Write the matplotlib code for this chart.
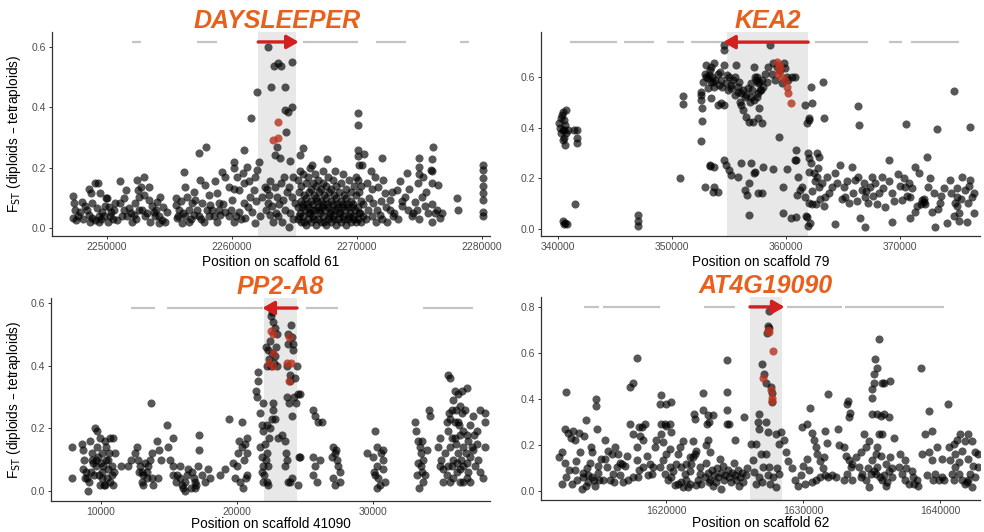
import matplotlib.pyplot as plt
import numpy as np
from matplotlib.ticker import FormatStrFormatter
import matplotlib.transforms as mtransforms

plt.rcParams["font.family"] = ["Liberation Sans", "DejaVu Sans"]

# All positions in kb, Fst values

# ---------- DAYSLEEPER, scaffold 61 ----------
dsl_snps = [
    (2247.25, 0.107), (2247.33, 0.082), (2247.47, 0.06), (2247.25, 0.032), (2247.52, 0.027),
    (2247.87, 0.051), (2248.0, 0.087), (2248.27, 0.071), (2248.53, 0.128), (2249.01, 0.148),
    (2249.28, 0.148), (2249.47, 0.117), (2248.75, 0.115), (2248.53, 0.043), (2248.8, 0.032),
    (2249.07, 0.027), (2249.33, 0.038), (2249.6, 0.054), (2248.8, 0.082), (2249.2, 0.065),
    (2249.87, 0.071), (2248.67, 0.021), (2249.33, 0.018), (2250.08, 0.018), (2250.27, 0.038),
    (2250.53, 0.06), (2250.67, 0.082), (2250.35, 0.051), (2250.8, 0.027), (2251.07, 0.154),
    (2251.52, 0.124), (2251.07, 0.082), (2251.33, 0.06), (2251.6, 0.038), (2252.0, 0.021),
    (2251.73, 0.065), (2252.21, 0.082), (2252.13, 0.043), (2252.4, 0.159), (2252.93, 0.17),
    (2252.75, 0.137), (2253.33, 0.137), (2252.48, 0.126), (2252.59, 0.104), (2252.93, 0.109),
    (2253.33, 0.093), (2253.6, 0.071), (2252.53, 0.06), (2253.07, 0.038), (2253.47, 0.021),
    (2253.87, 0.038), (2254.13, 0.015), (2254.4, 0.027), (2254.67, 0.021), (2254.0, 0.087),
    (2254.27, 0.104), (2254.8, 0.051), (2253.73, 0.054), (2256.13, 0.187), (2255.52, 0.098),
    (2255.52, 0.076), (2255.73, 0.06), (2255.6, 0.032), (2256.0, 0.015), (2256.27, 0.137),
    (2256.4, 0.104), (2256.53, 0.06), (2256.8, 0.082), (2256.27, 0.038), (2256.53, 0.021),
    (2256.93, 0.043), (2257.07, 0.093), (2257.39, 0.25), (2257.92, 0.267), (2257.47, 0.159),
    (2257.87, 0.143), (2258.13, 0.109), (2257.6, 0.082), (2258.0, 0.06), (2257.33, 0.038),
    (2257.73, 0.021), (2258.27, 0.076), (2258.53, 0.038), (2258.67, 0.154), (2258.8, 0.115),
    (2258.93, 0.082), (2259.2, 0.187), (2259.07, 0.043), (2258.8, 0.021), (2259.47, 0.17),
    (2259.73, 0.137), (2260.13, 0.22), (2260.13, 0.198), (2260.4, 0.17), (2260.53, 0.126),
    (2260.0, 0.093), (2259.47, 0.054), (2259.73, 0.038), (2260.13, 0.021), (2260.53, 0.054),
    (2260.93, 0.082), (2260.93, 0.259), (2260.85, 0.181), (2261.2, 0.203), (2261.33, 0.154),
    (2261.55, 0.364), (2261.07, 0.032), (2261.47, 0.104), (2261.73, 0.126), (2261.87, 0.17),
    (2262.0, 0.452), (2262.13, 0.22), (2261.6, 0.054), (2261.87, 0.015), (2262.27, 0.038),
    (2262.4, 0.104), (2262.67, 0.137), (2262.0, 0.192),
    (2247.7, 0.04), (2248.1, 0.03), (2248.4, 0.06), (2249.5, 0.03), (2249.8, 0.04),
    (2250.2, 0.07), (2250.5, 0.03), (2251.2, 0.04), (2251.9, 0.05), (2252.3, 0.03),
    (2252.8, 0.06), (2253.2, 0.05), (2253.9, 0.06), (2254.2, 0.04), (2254.5, 0.07),
    (2255.7, 0.04), (2256.1, 0.05), (2256.7, 0.03), (2257.2, 0.06), (2257.5, 0.03),
    (2258.4, 0.06), (2259.0, 0.06), (2259.3, 0.08), (2259.9, 0.06), (2260.3, 0.04),
    (2260.7, 0.03), (2261.3, 0.07), (2261.9, 0.09), (2258.2, 0.04), (2255.9, 0.09),
    (2250.0, 0.10), (2251.4, 0.10), (2249.9, 0.10), (2257.0, 0.12), (2260.2, 0.13), (2261.0, 0.15),
    # inside the gene
    (2262.91, 0.60), (2263.39, 0.537), (2263.71, 0.546), (2263.92, 0.537), (2264.77, 0.551),
    (2263.12, 0.468), (2264.24, 0.468), (2264.24, 0.391), (2264.51, 0.386), (2264.77, 0.40),
    (2264.29, 0.319), (2263.57, 0.27), (2263.44, 0.242), (2263.84, 0.231), (2264.64, 0.222),
    (2265.44, 0.242), (2265.71, 0.264), (2263.04, 0.154), (2263.44, 0.137), (2263.92, 0.148),
    (2264.56, 0.137), (2264.91, 0.170), (2262.91, 0.082), (2263.17, 0.071), (2263.57, 0.104),
    (2264.11, 0.093), (2264.24, 0.06), (2264.64, 0.049), (2263.71, 0.038), (2263.04, 0.043),
    (2264.77, 0.104), (2265.04, 0.082), (2264.56, 0.004), (2263.3, 0.02), (2264.0, 0.02),
    (2264.9, 0.03), (2263.0, 0.11), (2263.8, 0.08), (2264.4, 0.12), (2262.7, 0.06),
    (2263.5, 0.05), (2264.2, 0.17), (2262.8, 0.13),
    # dense block right of the gene
    (2265.32, 0.03), (2265.28, 0.07), (2265.35, 0.12), (2265.3, 0.16),
    (2265.52, 0.02), (2265.48, 0.05), (2265.55, 0.09), (2265.5, 0.14), (2265.46, 0.19),
    (2265.72, 0.04), (2265.68, 0.08), (2265.75, 0.11), (2265.7, 0.18),
    (2265.92, 0.01), (2265.88, 0.06), (2265.95, 0.10), (2265.9, 0.15), (2266.37, 0.21),
    (2266.12, 0.03), (2266.08, 0.07), (2266.15, 0.12), (2266.1, 0.17),
    (2266.32, 0.02), (2266.28, 0.05), (2266.35, 0.09), (2266.3, 0.13), (2266.25, 0.20),
    (2266.52, 0.04), (2266.48, 0.08), (2266.55, 0.11), (2266.5, 0.15),
    (2266.72, 0.01), (2266.68, 0.06), (2266.75, 0.10), (2266.7, 0.14), (2266.66, 0.18),
    (2266.92, 0.03), (2266.88, 0.07), (2266.95, 0.12), (2266.9, 0.16),
    (2267.12, 0.02), (2267.08, 0.05), (2267.15, 0.09), (2267.1, 0.13), (2267.57, 0.23),
    (2267.32, 0.04), (2267.28, 0.08), (2267.35, 0.11), (2267.3, 0.15), (2267.26, 0.19),
    (2267.52, 0.01), (2267.48, 0.06), (2267.55, 0.10), (2267.5, 0.14),
    (2267.72, 0.03), (2267.68, 0.07), (2267.75, 0.12), (2267.7, 0.17),
    (2267.92, 0.02), (2267.88, 0.05), (2267.95, 0.09), (2267.9, 0.13),
    (2268.12, 0.04), (2268.08, 0.08), (2268.15, 0.11), (2268.1, 0.16),
    (2268.32, 0.01), (2268.28, 0.06), (2268.35, 0.10), (2268.3, 0.14), (2268.26, 0.19),
    (2268.52, 0.03), (2268.48, 0.07), (2268.55, 0.12),
    (2268.72, 0.02), (2268.68, 0.05), (2268.75, 0.09), (2268.7, 0.15),
    (2268.92, 0.04), (2268.88, 0.08), (2268.95, 0.11), (2268.9, 0.18),
    (2269.12, 0.01), (2269.08, 0.06), (2269.15, 0.10), (2269.1, 0.13),
    (2269.32, 0.03), (2269.28, 0.07), (2269.35, 0.16),
    (2269.52, 0.02), (2269.48, 0.05), (2269.55, 0.09), (2269.5, 0.12),
    (2269.72, 0.04), (2269.68, 0.08), (2269.75, 0.14),
    (2269.92, 0.02), (2269.88, 0.06), (2269.95, 0.11), (2269.9, 0.17),
    (2270.12, 0.03), (2270.08, 0.07), (2270.15, 0.12), (2270.1, 0.16), (2270.2, 0.21),
    (2270.1, 0.26), (2270.11, 0.34), (2270.11, 0.38), (2270.05, 0.24),
    (2270.32, 0.02), (2270.28, 0.05), (2270.35, 0.09), (2270.3, 0.14), (2270.4, 0.21),
    (2270.52, 0.04), (2270.48, 0.08), (2270.59, 0.245),
    (2265.4, 0.04), (2265.8, 0.02), (2266.2, 0.05), (2266.6, 0.03), (2267.0, 0.06),
    (2267.4, 0.02), (2267.8, 0.04), (2268.2, 0.03), (2268.6, 0.05), (2269.0, 0.03),
    (2269.4, 0.04), (2269.8, 0.03), (2270.2, 0.05), (2265.6, 0.07), (2266.0, 0.08),
    (2266.4, 0.06), (2266.8, 0.09), (2267.2, 0.07), (2267.6, 0.08), (2268.0, 0.06),
    (2268.4, 0.08), (2268.8, 0.07), (2269.2, 0.08), (2269.6, 0.07),
    # right side
    (2271.44, 0.17), (2271.71, 0.137), (2272.11, 0.159), (2272.24, 0.115), (2272.64, 0.093),
    (2272.91, 0.038), (2271.31, 0.082), (2271.17, 0.038), (2271.84, 0.043), (2273.17, 0.126),
    (2273.44, 0.154), (2273.97, 0.181), (2273.84, 0.104), (2274.11, 0.06), (2273.57, 0.071),
    (2274.37, 0.038), (2274.64, 0.087), (2274.91, 0.148), (2275.17, 0.104), (2275.31, 0.17),
    (2275.44, 0.071), (2275.71, 0.049), (2275.97, 0.148), (2276.24, 0.049), (2276.51, 0.143),
    (2276.64, 0.032), (2275.97, 0.021), (2272.64, 0.06), (2271.97, 0.231), (2276.11, 0.267),
    (2275.97, 0.228), (2275.92, 0.192), (2274.96, 0.233), (2274.96, 0.203),
    (2280.11, 0.209), (2280.11, 0.192), (2280.11, 0.165), (2280.11, 0.115), (2280.11, 0.093),
    (2280.11, 0.054), (2280.11, 0.038), (2280.11, 0.14), (2277.97, 0.098), (2278.05, 0.06),
    (2270.7, 0.03), (2270.9, 0.06), (2271.0, 0.10), (2271.2, 0.13), (2271.5, 0.02),
    (2271.6, 0.06), (2271.9, 0.09), (2272.0, 0.03), (2272.3, 0.07), (2272.4, 0.02),
    (2272.8, 0.12), (2273.0, 0.05), (2273.3, 0.03), (2273.6, 0.09), (2274.2, 0.13),
    (2274.5, 0.05), (2274.8, 0.06), (2275.0, 0.03), (2275.5, 0.12), (2276.0, 0.08),
    (2276.4, 0.06), (2276.8, 0.05), (2276.0, 0.19), (2275.0, 0.18), (2270.8, 0.15), (2271.1, 0.19),
]
dsl_red = [(2263.71, 0.352), (2263.31, 0.292), (2263.65, 0.297)]
dsl_gene = (2262.1, 2265.1)
dsl_strand = 1
dsl_neighbours = [(2252.0, 2252.72), (2257.2, 2258.8), (2265.68, 2270.08),
                  (2271.52, 2273.92), (2278.24, 2278.96)]

# ---------- KEA2, scaffold 79 ----------
kea_snps = [
    (340.41, 0.46), (340.7, 0.47), (340.26, 0.44), (340.56, 0.43), (340.21, 0.40),
    (340.5, 0.39), (340.7, 0.38), (340.26, 0.38), (340.56, 0.36), (340.41, 0.39),
    (340.85, 0.39), (340.41, 0.35), (340.62, 0.33), (341.43, 0.39), (341.67, 0.39),
    (341.67, 0.36), (341.67, 0.34), (340.32, 0.45), (340.62, 0.41), (340.12, 0.42),
    (341.52, 0.10), (340.41, 0.03), (340.62, 0.025), (340.79, 0.02), (340.5, 0.02),
    (347.05, 0.055), (347.05, 0.03), (347.05, 0.01),
    (350.94, 0.525), (350.94, 0.493), (350.73, 0.20),
    (352.49, 0.542), (352.49, 0.529), (352.55, 0.509), (352.6, 0.476), (352.63, 0.428),
    (352.55, 0.349), (352.84, 0.167), (353.28, 0.253), (353.71, 0.243), (353.71, 0.167),
    (354.01, 0.147), (353.57, 0.147), (354.53, 0.726), (354.53, 0.707),
    (352.98, 0.647), (353.28, 0.628), (352.84, 0.614), (353.13, 0.595), (353.42, 0.582),
    (352.69, 0.582), (353.71, 0.654), (354.01, 0.614), (354.3, 0.588), (354.59, 0.647),
    (354.74, 0.575), (355.03, 0.601), (355.32, 0.588), (355.62, 0.647), (355.76, 0.562),
    (356.05, 0.536), (356.35, 0.522), (356.64, 0.555), (356.93, 0.575), (357.22, 0.641),
    (357.37, 0.588), (357.52, 0.536), (357.81, 0.549), (356.2, 0.47), (356.49, 0.443),
    (356.78, 0.424), (357.08, 0.424), (354.3, 0.496), (354.59, 0.489), (354.01, 0.489),
    (353.13, 0.555), (353.42, 0.516), (353.71, 0.562), (355.18, 0.555), (355.47, 0.529),
    (355.91, 0.503), (357.22, 0.509), (357.66, 0.476),
    (353.0, 0.60), (353.2, 0.61), (353.5, 0.60), (353.8, 0.59), (354.1, 0.57),
    (354.4, 0.56), (354.8, 0.61), (355.2, 0.57), (355.5, 0.60), (355.9, 0.58),
    (356.2, 0.55), (356.5, 0.53), (356.8, 0.50), (356.9, 0.52), (357.0, 0.55),
    (357.4, 0.60), (357.6, 0.58), (353.4, 0.64), (354.2, 0.62), (355.8, 0.54),
    (356.0, 0.49), (353.6, 0.58), (354.9, 0.55),
    (354.59, 0.272), (354.74, 0.253), (355.03, 0.233), (355.18, 0.213), (355.76, 0.207),
    (356.05, 0.259), (356.93, 0.259), (356.78, 0.18), (357.22, 0.22), (356.35, 0.154),
    (356.58, 0.134), (357.52, 0.141), (353.28, 0.249), (356.7, 0.055),
    (357.28, 0.601), (357.57, 0.575), (357.86, 0.588), (358.16, 0.614), (358.45, 0.641),
    (358.6, 0.726), (358.89, 0.654), (359.18, 0.641), (359.47, 0.628), (359.77, 0.654),
    (359.91, 0.634), (360.06, 0.601), (360.2, 0.588), (360.5, 0.601), (360.79, 0.601),
    (358.74, 0.614), (357.72, 0.549), (358.01, 0.562), (358.3, 0.582), (359.03, 0.588),
    (359.62, 0.575), (357.43, 0.522), (357.57, 0.437), (357.86, 0.417), (359.33, 0.362),
    (360.85, 0.312), (360.85, 0.272), (362.69, 0.299), (362.84, 0.286),
    (361.67, 0.489), (362.19, 0.562), (362.25, 0.499), (363.27, 0.582), (363.36, 0.437),
    (361.96, 0.437), (361.81, 0.417), (366.29, 0.487), (366.43, 0.411), (370.5, 0.413),
    (373.22, 0.393), (376.14, 0.404), (374.74, 0.545),
    (357.28, 0.226), (358.01, 0.246), (358.89, 0.236), (360.06, 0.236), (360.79, 0.272),
    (361.08, 0.207), (361.37, 0.167), (361.67, 0.128), (361.96, 0.101), (362.1, 0.022),
    (361.81, 0.049), (360.93, 0.134), (361.23, 0.154), (361.96, 0.226), (362.4, 0.22),
    (362.69, 0.207), (362.84, 0.167), (363.13, 0.18), (363.42, 0.128), (363.57, 0.207),
    (364.01, 0.167), (364.3, 0.22), (364.74, 0.253), (365.03, 0.167), (365.17, 0.128),
    (365.47, 0.101), (365.76, 0.246), (366.05, 0.193), (366.34, 0.207), (366.64, 0.154),
    (366.93, 0.128), (367.22, 0.101), (367.37, 0.167), (367.51, 0.207), (367.81, 0.18),
    (368.1, 0.141), (368.39, 0.207), (368.68, 0.088), (368.98, 0.272), (369.27, 0.141),
    (369.79, 0.217), (370.15, 0.114), (370.44, 0.167), (370.73, 0.18), (370.88, 0.128),
    (371.32, 0.246), (371.61, 0.22), (371.9, 0.114), (372.05, 0.108), (372.34, 0.286),
    (372.48, 0.167), (372.78, 0.068), (373.07, 0.009), (373.51, 0.101), (373.8, 0.161),
    (374.09, 0.022), (374.39, 0.193), (374.82, 0.101), (374.97, 0.128), (375.12, 0.062),
    (375.41, 0.207), (375.7, 0.154), (375.99, 0.101), (376.14, 0.193), (376.29, 0.128),
    (376.43, 0.062), (376.43, 0.141), (375.85, 0.029), (371.32, 0.068), (370.88, 0.042),
    (369.27, 0.029), (366.93, 0.009), (366.49, 0.042), (364.3, 0.02), (360.85, 0.049),
    (360.44, 0.042), (359.68, 0.062), (359.68, 0.167), (357.86, 0.141),
    (362.3, 0.15), (362.6, 0.10), (363.0, 0.12), (363.3, 0.09), (363.8, 0.14),
    (364.5, 0.18), (364.9, 0.12), (365.3, 0.19), (365.9, 0.14), (366.2, 0.11),
    (366.8, 0.18), (367.0, 0.15), (367.6, 0.13), (368.0, 0.10), (368.5, 0.16),
    (369.0, 0.19), (369.5, 0.11), (370.0, 0.17), (370.3, 0.20), (370.6, 0.13),
    (371.0, 0.16), (371.5, 0.09), (371.8, 0.10), (372.1, 0.12), (372.2, 0.10),
    (372.6, 0.20), (373.0, 0.14), (373.3, 0.08), (373.6, 0.13), (374.5, 0.14),
    (374.7, 0.05), (375.0, 0.09), (375.2, 0.03), (375.0, 0.16), (375.3, 0.12),
    (376.0, 0.17), (362.0, 0.28), (362.2, 0.26), (362.8, 0.24), (362.5, 0.19),
    (361.9, 0.30), (362.0, 0.43), (361.7, 0.05), (361.9, 0.01), (362.3, 0.10),
]
kea_red = [(359.18, 0.661), (359.33, 0.647), (359.47, 0.634), (359.27, 0.614), (359.62, 0.601),
           (359.91, 0.588), (360.06, 0.562), (360.15, 0.536), (360.44, 0.496), (359.39, 0.628)]
kea_gene = (354.83, 361.93)
kea_strand = -1
kea_neighbours = [(341.08, 345.18), (345.76, 348.45), (349.56, 351.02), (351.67, 354.45),
                  (362.54, 367.22), (369.06, 370.15), (370.96, 375.12)]

# ---------- PP2-A8, scaffold 41090 ----------
pp2_snps = [
    (7.84, 0.14), (7.84, 0.04), (8.58, 0.15), (8.70, 0.13), (8.75, 0.10), (8.65, 0.07),
    (8.90, 0.06), (9.00, 0.04), (9.19, 0.16), (9.31, 0.12), (9.44, 0.09), (9.24, 0.06),
    (9.14, 0.03), (9.07, 0.00), (9.56, 0.20), (9.68, 0.19), (9.73, 0.14), (9.80, 0.11),
    (9.63, 0.08), (9.93, 0.17), (10.05, 0.12), (9.88, 0.05), (10.17, 0.08), (10.29, 0.16),
    (10.37, 0.14), (10.42, 0.04), (10.54, 0.10), (10.66, 0.17), (10.78, 0.08), (10.91, 0.17),
    (10.66, 0.03), (10.22, 0.02), (11.03, 0.12), (10.96, 0.06), (10.05, 0.04),
    (9.5, 0.05), (9.6, 0.10), (10.0, 0.09), (10.1, 0.06), (10.5, 0.07), (10.8, 0.05),
    (9.35, 0.10), (8.8, 0.04), (10.3, 0.02), (10.6, 0.12), (9.9, 0.02), (10.9, 0.02), (10.4, 0.10),
    (11.45, 0.08), (12.01, 0.08), (12.21, 0.10),
    (12.62, 0.14), (12.50, 0.12), (12.75, 0.10), (12.87, 0.08), (12.99, 0.06), (13.11, 0.05),
    (13.36, 0.04), (13.48, 0.08), (13.60, 0.10), (13.73, 0.12), (13.11, 0.02), (13.24, 0.09),
    (13.65, 0.28), (13.73, 0.04), (13.85, 0.02), (14.09, 0.16), (14.29, 0.13), (14.39, 0.10),
    (14.22, 0.04), (13.0, 0.03), (12.8, 0.06), (13.4, 0.06),
    (14.88, 0.21), (15.27, 0.17), (14.95, 0.14), (15.07, 0.10), (15.32, 0.08), (15.56, 0.05),
    (15.81, 0.04), (15.93, 0.02), (16.05, 0.01), (16.18, 0.03), (16.30, 0.05), (16.42, 0.07),
    (16.59, 0.01), (16.67, 0.06), (16.91, 0.03), (17.23, 0.18), (17.23, 0.13), (17.16, 0.08),
    (17.40, 0.05), (17.65, 0.03), (17.89, 0.07), (18.01, 0.04), (15.32, 0.05), (15.81, 0.08),
    (16.91, 0.01), (16.2, 0.00), (15.5, 0.03), (16.8, 0.04), (17.0, 0.02),
    (19.44, 0.23), (18.75, 0.05), (19.12, 0.07), (19.73, 0.09), (19.85, 0.04), (20.02, 0.08),
    (20.34, 0.22), (20.17, 0.16), (20.34, 0.14), (20.59, 0.15), (20.71, 0.17), (20.71, 0.12),
    (20.47, 0.01), (20.66, 0.04), (20.22, 0.03), (20.71, 0.05), (20.5, 0.10), (20.1, 0.12),
    (21.57, 0.38), (21.57, 0.35), (21.40, 0.32), (21.50, 0.30), (21.94, 0.28), (21.69, 0.25),
    (21.81, 0.21), (21.94, 0.19), (22.06, 0.15), (21.69, 0.14), (21.81, 0.11), (21.94, 0.08),
    (21.94, 0.03), (22.18, 0.03), (22.30, 0.08), (22.18, 0.12), (22.38, 0.17), (22.18, 0.21),
    (22.43, 0.20), (22.55, 0.23), (22.67, 0.26), (22.48, 0.56), (22.67, 0.54), (22.79, 0.52),
    (22.92, 0.50), (22.13, 0.46), (22.30, 0.45), (22.55, 0.44), (22.79, 0.43), (22.23, 0.40),
    (22.48, 0.40), (22.72, 0.41), (22.92, 0.40), (22.62, 0.28), (22.79, 0.23), (23.28, 0.18),
    (23.53, 0.16), (23.53, 0.08), (23.60, 0.12), (23.70, 0.10), (23.73, 0.03), (23.90, 0.03),
    (24.02, 0.04), (23.85, 0.28), (23.77, 0.50), (23.95, 0.53), (24.02, 0.49), (23.77, 0.47),
    (24.14, 0.47), (24.09, 0.45), (23.70, 0.40), (23.90, 0.37), (23.90, 0.35), (23.65, 0.30),
    (24.26, 0.36), (24.34, 0.28), (24.46, 0.31), (24.63, 0.31), (24.02, 0.24), (24.58, 0.11),
    (24.51, 0.02), (24.63, 0.11), (22.0, 0.05), (22.3, 0.02), (21.8, 0.06), (22.1, 0.10),
    (23.0, 0.17), (22.9, 0.46), (22.4, 0.48), (22.6, 0.57), (22.35, 0.42), (24.2, 0.30), (24.4, 0.40),
    (25.61, 0.26), (25.74, 0.24), (25.98, 0.22), (26.23, 0.22), (25.61, 0.11), (25.74, 0.08),
    (26.10, 0.10), (25.56, 0.05), (25.86, 0.03), (27.08, 0.14), (27.21, 0.12), (27.33, 0.10),
    (27.45, 0.08), (27.57, 0.06), (27.08, 0.04), (27.21, 0.02), (27.57, 0.03), (27.3, 0.13), (27.0, 0.11),
    (29.53, 0.12), (30.15, 0.19), (30.27, 0.14), (30.02, 0.11), (30.27, 0.08), (30.15, 0.05),
    (30.39, 0.04), (30.51, 0.02), (30.76, 0.13), (30.71, 0.10), (30.76, 0.07), (30.88, 0.03),
    (30.32, 0.01), (30.6, 0.12), (30.1, 0.06),
    (33.09, 0.22), (33.16, 0.19), (33.33, 0.16), (33.46, 0.14), (33.50, 0.12), (33.70, 0.10),
    (33.50, 0.08), (33.58, 0.06), (33.21, 0.05), (33.70, 0.03), (33.41, 0.01), (34.14, 0.26),
    (34.19, 0.24), (33.95, 0.13), (33.82, 0.05), (33.3, 0.09), (33.6, 0.16),
    (35.54, 0.37), (35.66, 0.36), (36.03, 0.32), (36.27, 0.31), (36.52, 0.32), (36.89, 0.33),
    (36.76, 0.26), (36.40, 0.27), (35.91, 0.29), (35.78, 0.26), (35.66, 0.23), (35.42, 0.22),
    (36.03, 0.22), (36.27, 0.22), (36.52, 0.25), (36.64, 0.19), (36.89, 0.18), (37.13, 0.21),
    (37.38, 0.24), (37.62, 0.19), (37.87, 0.26), (38.24, 0.25), (38.24, 0.22), (37.62, 0.15),
    (37.38, 0.13), (37.13, 0.11), (36.89, 0.09), (36.64, 0.08), (36.40, 0.07), (36.15, 0.06),
    (35.91, 0.04), (35.66, 0.03), (35.42, 0.05), (35.17, 0.07), (34.93, 0.08), (34.80, 0.14),
    (35.66, 0.14), (35.91, 0.10), (36.27, 0.12), (36.64, 0.14), (37.01, 0.16), (37.25, 0.14),
    (37.50, 0.08), (37.87, 0.06), (38.11, 0.04), (38.24, 0.14), (36.89, 0.04), (37.13, 0.03),
    (36.40, 0.03), (36.64, 0.03), (35.17, 0.03), (35.54, 0.08), (35.78, 0.17), (35.54, 0.19),
    (36.03, 0.17), (36.40, 0.18), (35.0, 0.10), (35.3, 0.12), (36.2, 0.09), (36.5, 0.10),
    (36.8, 0.12), (37.0, 0.06), (35.8, 0.08), (36.1, 0.15), (37.7, 0.10), (35.6, 0.25),
    (36.1, 0.26), (36.3, 0.21), (34.9, 0.17), (37.4, 0.18),
]
pp2_red = [(22.48, 0.51), (22.62, 0.50), (22.38, 0.41), (22.62, 0.44), (22.67, 0.40),
           (23.85, 0.49), (23.70, 0.41), (23.85, 0.35), (23.95, 0.41)]
pp2_gene = (21.98, 24.41)
pp2_strand = -1
pp2_neighbours = [(12.21, 13.97), (14.85, 21.94), (25.07, 27.43), (33.68, 37.35)]

# ---------- AT4G19090, scaffold 62 ----------
at4_snps = [
    (1612.12, 0.15), (1612.36, 0.17), (1612.4, 0.03), (1612.61, 0.27), (1612.68, 0.43),
    (1612.61, 0.12), (1612.8, 0.25), (1612.9, 0.09), (1613.0, 0.23), (1613.09, 0.03),
    (1613.2, 0.26), (1613.33, 0.22), (1613.4, 0.13), (1613.5, 0.05), (1613.6, 0.25),
    (1613.7, 0.17), (1613.8, 0.01), (1613.9, 0.06), (1614.0, 0.24), (1614.1, 0.31),
    (1614.2, 0.10), (1614.3, 0.04), (1614.4, 0.12), (1614.5, 0.19), (1614.6, 0.06),
    (1614.7, 0.05), (1614.86, 0.40), (1614.86, 0.37), (1614.9, 0.27), (1615.0, 0.08),
    (1615.1, 0.05), (1615.2, 0.14), (1614.1, 0.02), (1614.6, 0.17), (1613.9, 0.08),
    (1614.3, 0.07), (1612.7, 0.06), (1613.3, 0.09), (1614.8, 0.02), (1615.0, 0.11),
    (1615.52, 0.22), (1615.52, 0.14), (1615.76, 0.176), (1616.0, 0.161), (1616.24, 0.19),
    (1616.48, 0.161), (1616.73, 0.118), (1615.64, 0.104), (1615.88, 0.046), (1616.12, 0.075),
    (1616.36, 0.104), (1616.61, 0.068), (1616.85, 0.039), (1615.39, 0.046), (1616.97, 0.107),
    (1617.09, 0.154), (1617.33, 0.291), (1617.58, 0.471), (1617.82, 0.579), (1617.33, 0.45),
    (1617.53, 0.248), (1617.82, 0.19), (1618.06, 0.241), (1618.3, 0.22), (1618.01, 0.277),
    (1618.18, 0.28), (1617.82, 0.133), (1618.3, 0.104), (1618.55, 0.154), (1618.79, 0.118),
    (1619.03, 0.104), (1619.15, 0.19), (1619.27, 0.22), (1617.58, 0.061), (1617.94, 0.061),
    (1618.67, 0.068), (1618.91, 0.075), (1618.42, 0.291), (1616.2, 0.04), (1617.2, 0.05),
    (1616.6, 0.12), (1618.0, 0.09),
    (1619.64, 0.417), (1619.52, 0.378), (1620.0, 0.378), (1620.36, 0.385), (1619.64, 0.291),
    (1619.88, 0.291), (1620.0, 0.284), (1620.24, 0.291), (1620.36, 0.255), (1619.64, 0.248),
    (1619.76, 0.212), (1620.0, 0.161), (1620.24, 0.183), (1619.76, 0.133), (1619.52, 0.104),
    (1619.88, 0.075), (1620.12, 0.046), (1620.36, 0.061), (1620.48, 0.089), (1620.73, 0.118),
    (1620.85, 0.161), (1620.97, 0.19), (1621.21, 0.219), (1621.09, 0.104), (1621.33, 0.075),
    (1621.45, 0.046), (1621.58, 0.017), (1621.7, 0.089), (1621.82, 0.118), (1621.94, 0.147),
    (1622.06, 0.161), (1622.18, 0.176), (1622.3, 0.046), (1622.42, 0.104), (1622.18, 0.025),
    (1621.7, 0.032), (1621.94, 0.219), (1621.99, 0.334), (1622.06, 0.313), (1620.61, 0.025),
    (1620.85, 0.032), (1621.09, 0.039), (1620.24, 0.104), (1621.7, 0.147), (1622.42, 0.075),
    (1622.55, 0.032), (1621.21, 0.017), (1621.45, 0.118),
    (1622.67, 0.428), (1623.03, 0.33), (1623.4, 0.33), (1622.67, 0.35), (1623.1, 0.30),
    (1622.95, 0.29), (1623.0, 0.22), (1623.2, 0.17), (1622.9, 0.20), (1624.4, 0.57),
    (1624.4, 0.43), (1624.4, 0.35), (1624.45, 0.29), (1624.6, 0.29), (1625.7, 0.32),
    (1622.8, 0.06), (1623.0, 0.08), (1623.2, 0.05), (1623.3, 0.09), (1623.5, 0.07),
    (1623.6, 0.04), (1623.7, 0.10), (1623.8, 0.06), (1624.0, 0.08), (1624.1, 0.11),
    (1624.2, 0.05), (1624.3, 0.07), (1624.5, 0.09), (1624.6, 0.06), (1624.7, 0.04),
    (1624.8, 0.08), (1625.0, 0.07), (1625.1, 0.05), (1625.2, 0.09), (1625.4, 0.06),
    (1625.5, 0.08), (1625.6, 0.04), (1625.8, 0.07), (1625.9, 0.10), (1623.4, 0.02),
    (1624.0, 0.01), (1625.3, 0.02), (1622.9, 0.12), (1624.9, 0.12), (1623.9, 0.14),
    (1625.0, 0.22), (1623.1, 0.04),
    (1627.47, 0.784), (1627.39, 0.716), (1627.52, 0.709), (1627.32, 0.688), (1626.98, 0.551),
    (1627.15, 0.507), (1627.27, 0.471), (1627.64, 0.45), (1627.71, 0.428), (1626.79, 0.334),
    (1626.67, 0.298), (1626.74, 0.27), (1626.55, 0.205), (1627.27, 0.298), (1627.39, 0.255),
    (1626.18, 0.205), (1626.3, 0.133), (1626.42, 0.082), (1626.55, 0.032), (1626.79, 0.061),
    (1627.03, 0.104), (1627.27, 0.161), (1627.52, 0.104), (1627.76, 0.061), (1628.0, 0.017),
    (1628.24, 0.075), (1628.0, 0.248), (1628.24, 0.205), (1628.36, 0.255), (1627.0, 0.04),
    (1627.6, 0.03), (1626.9, 0.16), (1627.4, 0.07), (1628.1, 0.10), (1627.71, 0.385),
    (1628.6, 0.22), (1628.7, 0.17), (1628.9, 0.13), (1629.2, 0.10), (1629.4, 0.05),
    (1629.6, 0.02), (1629.8, 0.07), (1630.0, 0.11), (1630.3, 0.14), (1629.9, 0.28),
    (1630.5, 0.36), (1630.3, 0.29), (1630.6, 0.25), (1630.8, 0.22), (1630.9, 0.19),
    (1631.0, 0.16), (1631.2, 0.13), (1631.4, 0.10), (1631.6, 0.07), (1631.2, 0.06),
    (1630.9, 0.05), (1630.6, 0.04), (1631.6, 0.26), (1631.7, 0.21), (1631.8, 0.42),
    (1631.8, 0.06), (1632.1, 0.07), (1632.4, 0.06), (1632.5, 0.27), (1630.1, 0.03),
    (1630.4, 0.09), (1631.5, 0.15),
    (1632.61, 0.20), (1632.97, 0.19), (1633.09, 0.154), (1633.21, 0.075), (1633.33, 0.133),
    (1633.45, 0.104), (1633.58, 0.046), (1632.97, 0.046), (1633.33, 0.32), (1633.21, 0.378),
    (1633.28, 0.39), (1633.4, 0.34), (1633.58, 0.118), (1633.82, 0.147), (1634.06, 0.104),
    (1634.18, 0.169), (1634.3, 0.075), (1634.55, 0.046), (1634.79, 0.017), (1634.91, 0.075),
    (1635.03, 0.133), (1635.15, 0.089), (1635.27, 0.161), (1634.79, 0.219), (1634.55, 0.19),
    (1634.42, 0.248), (1635.03, 0.334), (1635.52, 0.659), (1635.23, 0.572), (1635.39, 0.536),
    (1635.15, 0.507), (1635.15, 0.471), (1635.03, 0.443), (1634.98, 0.406), (1635.76, 0.471),
    (1635.88, 0.471), (1636.36, 0.48), (1635.39, 0.334), (1635.64, 0.327), (1635.88, 0.334),
    (1636.24, 0.32), (1635.52, 0.248), (1635.76, 0.248), (1635.39, 0.19), (1635.64, 0.154),
    (1636.0, 0.118), (1636.24, 0.089), (1636.48, 0.061), (1635.76, 0.046), (1635.39, 0.104),
    (1635.27, 0.075), (1635.9, 0.07), (1636.1, 0.04), (1636.3, 0.15), (1636.6, 0.23),
    (1636.5, 0.10), (1635.6, 0.06), (1634.7, 0.10), (1634.2, 0.06), (1636.0, 0.02),
    (1636.97, 0.104), (1637.21, 0.075), (1637.45, 0.046), (1637.7, 0.032), (1638.06, 0.032),
    (1638.3, 0.046), (1637.94, 0.089), (1637.45, 0.133), (1637.09, 0.161), (1638.67, 0.161),
    (1638.62, 0.533), (1638.91, 0.248), (1639.15, 0.349), (1639.15, 0.169), (1639.39, 0.133),
    (1639.64, 0.075), (1639.88, 0.046), (1640.12, 0.061), (1639.76, 0.19), (1639.39, 0.26),
    (1640.56, 0.378), (1640.73, 0.133), (1640.97, 0.205), (1641.09, 0.161), (1641.33, 0.126),
    (1641.58, 0.176), (1641.82, 0.219), (1642.06, 0.248), (1642.3, 0.219), (1642.55, 0.169),
    (1642.79, 0.161), (1641.09, 0.104), (1641.33, 0.075), (1641.58, 0.046), (1641.82, 0.032),
    (1642.06, 0.046), (1642.3, 0.017), (1642.55, 0.061), (1642.79, 0.104), (1641.94, 0.039),
    (1642.18, 0.075), (1641.45, 0.248), (1640.61, 0.19), (1640.85, 0.075), (1640.12, 0.14),
    (1638.0, 0.06), (1638.4, 0.02), (1639.0, 0.07), (1639.5, 0.05), (1640.3, 0.05),
    (1641.0, 0.05), (1642.0, 0.14), (1642.4, 0.11), (1641.2, 0.22), (1637.5, 0.10),
]
at4_red = [(1627.44, 0.70), (1627.52, 0.69), (1627.76, 0.608), (1627.03, 0.493),
           (1627.68, 0.406), (1627.71, 0.392), (1627.64, 0.44)]
at4_gene = (1626.1, 1628.44)
at4_strand = 1
at4_neighbours = [(1614.01, 1615.1), (1615.39, 1619.52), (1622.74, 1625.04),
                  (1628.8, 1632.85), (1633.04, 1640.24)]

panels = [
    dict(name="DAYSLEEPER", scaffold="61", snps=dsl_snps, red=dsl_red, gene=dsl_gene,
         strand=dsl_strand, nb=dsl_neighbours, track_y=0.617, xlim=(2245.6, 2280.64),
         ylim=(-0.027, 0.65), xticks=[2250, 2260, 2270, 2280], yticks=[0, 0.2, 0.4, 0.6],
         rect=[52, 32, 490, 236], ylabel=True, bottom=False),
    dict(name="KEA2", scaffold="79", snps=kea_snps, red=kea_red, gene=kea_gene,
         strand=kea_strand, nb=kea_neighbours, track_y=0.738, xlim=(338.5, 377.0),
         ylim=(-0.028, 0.778), xticks=[340, 350, 360, 370], yticks=[0, 0.2, 0.4, 0.6],
         rect=[541, 32, 980, 236], ylabel=False, bottom=False),
    dict(name="PP2-A8", scaffold="41090", snps=pp2_snps, red=pp2_red, gene=pp2_gene,
         strand=pp2_strand, nb=pp2_neighbours, track_y=0.584, xlim=(6.32, 38.6),
         ylim=(-0.032, 0.616), xticks=[10, 20, 30], yticks=[0, 0.2, 0.4, 0.6],
         rect=[51, 298, 490, 501], ylabel=True, bottom=True),
    dict(name="AT4G19090", scaffold="62", snps=at4_snps, red=at4_red, gene=at4_gene,
         strand=at4_strand, nb=at4_neighbours, track_y=0.80, xlim=(1610.84, 1642.9),
         ylim=(-0.039, 0.843), xticks=[1620, 1630, 1640], yticks=[0, 0.2, 0.4, 0.6, 0.8],
         rect=[541, 297, 980, 500], ylabel=False, bottom=True),
]

W, H = 984, 532
fig = plt.figure(figsize=(W / 100, H / 100), dpi=100)

for p in panels:
    l, t, r, b = p["rect"]
    ax = fig.add_axes([l / W, 1 - b / H, (r - l) / W, (b - t) / H])
    kb = 1000

    g0, g1 = p["gene"]
    ax.axvspan(g0 * kb, g1 * kb, color="#e8e8e8", lw=0, zorder=0)

    for s, e in p["nb"]:
        ax.plot([s * kb, e * kb], [p["track_y"]] * 2, color="#c4c4c4", lw=1.6,
                solid_capstyle="butt", zorder=1)

    x, y = np.array(p["snps"]).T
    ax.scatter(x * kb, y, s=34, color="black", alpha=0.66, linewidths=0, zorder=2)
    rx, ry = np.array(p["red"]).T
    ax.scatter(rx * kb, ry, s=34, color="#b8321f", alpha=0.8, linewidths=0, zorder=3)

    if p["strand"] > 0:
        tail, tip = g0, g1 + 0.08 * (g1 - g0)
    else:
        tail, tip = g1, g0 - 0.05 * (g1 - g0)
    ax.annotate("", xy=(tip * kb, p["track_y"]), xytext=(tail * kb, p["track_y"]),
                arrowprops=dict(arrowstyle="-|>,head_length=0.7,head_width=0.4",
                                color="#d21f1f", lw=2.4, shrinkA=0, shrinkB=0),
                zorder=4)

    trans = mtransforms.blended_transform_factory(ax.transData, ax.transAxes)
    ax.text((g0 + g1) / 2 * kb, 0.995, p["name"], transform=trans, ha="center",
            va="bottom", fontsize=18, fontweight="bold", fontstyle="italic",
            color="#e8601c", zorder=5)

    ax.set_xlim(p["xlim"][0] * kb, p["xlim"][1] * kb)
    ax.set_ylim(*p["ylim"])
    ax.set_xticks([v * kb for v in p["xticks"]])
    ax.set_yticks(p["yticks"])
    ax.xaxis.set_major_formatter(FormatStrFormatter("%d"))
    ax.yaxis.set_major_formatter(FormatStrFormatter("%.1f"))
    ax.tick_params(labelsize=7.5, labelcolor="#4d4d4d", color="#333333",
                   length=2.5, width=0.7, pad=1.5 if p["bottom"] else 2)
    for side in ("top", "right"):
        ax.spines[side].set_visible(False)
    for side in ("left", "bottom"):
        ax.spines[side].set_color("#333333")
        ax.spines[side].set_linewidth(0.9)
    ax.set_xlabel("Position on scaffold " + p["scaffold"], fontsize=9.8,
                  labelpad=0 if p["bottom"] else 2)
    if p["ylabel"]:
        ax.set_ylabel(r"F$_{\mathrm{ST}}$ (diploids – tetraploids)", fontsize=9.8,
                      labelpad=6)

fig.savefig("out.png", dpi=100)
